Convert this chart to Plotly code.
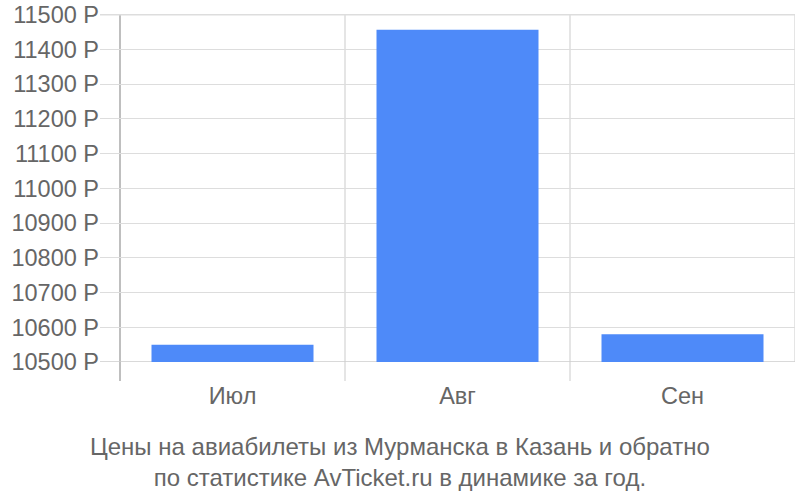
import plotly.graph_objects as go

# data
months = ["Июл", "Авг", "Сен"]
prices = [10550, 11457, 10580]
y_ticks = list(range(10500, 11501, 100))

bar_color = "#4e8af9"
txt_color = "#666666"
font_name = "Liberation Sans, Arial, sans-serif"

fig = go.Figure()
fig.add_trace(go.Bar(x=months, y=prices, marker=dict(color=bar_color, line=dict(width=0)),
                     width=0.72))

# plot area: x 100..795, y 14..362 (page body margin removed below)
fig.update_layout(
    width=800, height=500,
    margin=dict(l=100, r=5, t=14, b=138, autoexpand=False),
    paper_bgcolor="white", plot_bgcolor="white",
    showlegend=False,
    font=dict(family=font_name, color=txt_color, size=23.5),
)
fig.update_xaxes(
    type="category", range=[-0.5 - 20 / 225, 2.5], automargin=False,
    showgrid=False, zeroline=False, showline=False,
    ticks="outside", ticklen=13, tickcolor="rgba(0,0,0,0)",
    tickfont=dict(size=23.5, color=txt_color),
)
fig.update_yaxes(
    range=[10500, 11502], tickvals=y_ticks, automargin=False,
    ticktext=[f"{v} Р" for v in y_ticks], ticklabeloverflow="allow",
    showgrid=True, gridcolor="#dddddd", gridwidth=1,
    zeroline=False, showline=False,
    tickfont=dict(size=23.5, color=txt_color),
)

# vertical separators between categories, extending below the plot
for i, xv in enumerate([-0.5, 0.5, 1.5, 2.5]):
    fig.add_shape(type="line", xref="x", yref="paper", x0=xv, x1=xv,
                  y0=-19 / 348 if xv < 2.5 else 0, y1=1,
                  line=dict(color="#aaaaaa" if i == 0 else "#dddddd", width=1.5), layer="below")
# top and bottom lines
fig.add_shape(type="line", xref="paper", yref="y", x0=0, x1=1, y0=11500, y1=11500,
              line=dict(color="#dddddd", width=1.5), layer="below")
fig.add_shape(type="line", xref="paper", yref="y", x0=0, x1=1, y0=10500, y1=10500,
              line=dict(color="#cccccc", width=1.5), layer="below")

fig.add_annotation(
    text="Цены на авиабилеты из Мурманска в Казань и обратно<br>по статистике AvTicket.ru в динамике за год.",
    xref="paper", yref="paper", x=(400 - 100) / 695, y=(362 - 461.5) / 348,
    xanchor="center", yanchor="middle", showarrow=False,
    font=dict(size=24, color=txt_color, family=font_name),
)

fig.write_html("out.html", config={"displayModeBar": False},
               post_script="document.body.style.margin='0';")
